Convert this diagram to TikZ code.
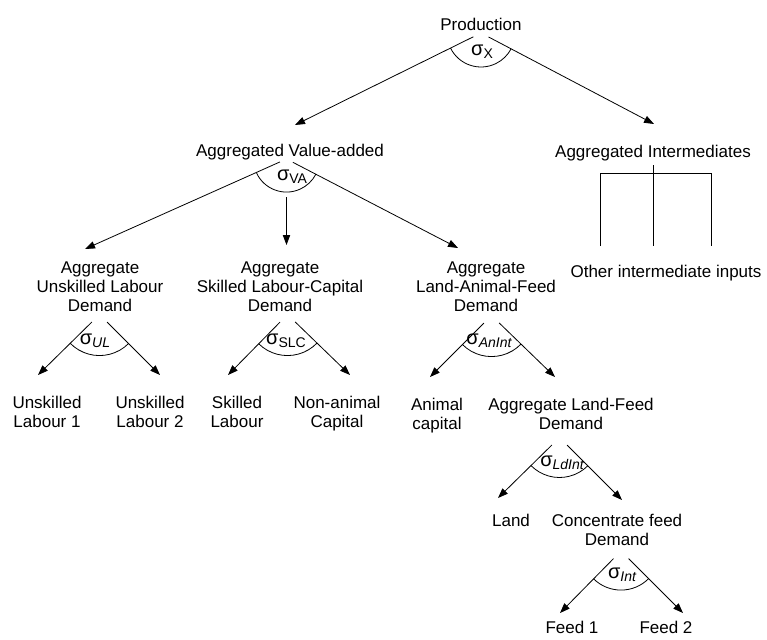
\documentclass[tikz,border=0pt]{standalone}
\usepackage{fontspec}
\setmainfont{Liberation Sans}
\usetikzlibrary{arrows.meta,angles}

% elasticity label: large sigma with lowered subscript
\newcommand\elas[1]{{\fontsize{15}{15}\selectfont σ}%
  \raisebox{-2.6pt}{\fontsize{10.5}{10.5}\selectfont #1}}

\begin{document}
\begin{tikzpicture}[
  x=0.75pt, y=-0.75pt,
  font=\fontsize{12.75}{14.25}\selectfont,
  >={Triangle[length=7.5pt,width=5.5pt]},
  lbl/.style={align=center, inner sep=0pt},
  sig/.style={inner sep=0pt, anchor=base},
  line/.style={line width=0.6pt},
  arr/.style={->, line width=0.6pt},
  nest/.style={draw, line width=0.6pt, angle radius=#1}
]
  \useasboundingbox (0,0) rectangle (767,639);
  % top levels
  \node[lbl] (prod) at (481,24.8) {Production};
  \node[lbl] (va) at (290,152.6) {Aggregated Value-added};
  \node[lbl] (ai) at (653,153.6) {Aggregated Intermediates};
  \node[lbl] (oi) at (666,273.6) {Other intermediate inputs};
  % value-added components
  \node[lbl] (ul) at (100,287) {Aggregate\\Unskilled Labour\\Demand};
  \node[lbl] (slc) at (280,287) {Aggregate\\Skilled Labour-Capital\\Demand};
  \node[lbl] (laf) at (486,287) {Aggregate\\Land-Animal-Feed\\Demand};
  % primary factors
  \node[lbl] (ul1) at (47,412.3) {Unskilled\\Labour 1};
  \node[lbl] (ul2) at (150,412.3) {Unskilled\\Labour 2};
  \node[lbl] (sl) at (237,412.3) {Skilled\\Labour};
  \node[lbl] (nac) at (337,414) {Non-animal\\Capital};
  \node[lbl] (ac) at (437,416) {Animal\\capital};
  \node[lbl] (alf) at (571,414.3) {Aggregate Land-Feed\\Demand};
  \node[lbl] (land) at (511,520.8) {Land};
  \node[lbl] (cf) at (617,530.3) {Concentrate feed\\Demand};
  \node[lbl] (f1) at (572,627.8) {Feed 1};
  \node[lbl] (f2) at (666,627.8) {Feed 2};

  % nest vertices and arrow tips
  \coordinate (prodv) at (481,33);   \coordinate (proda) at (295,125);
  \coordinate (prodb) at (654,124);
  \coordinate (vav) at (286.5,159);  \coordinate (vaa) at (85,249);
  \coordinate (vam) at (286.5,245);  \coordinate (vab) at (458,248);
  \coordinate (ulv) at (99.5,314.5); \coordinate (ula) at (38,375);
  \coordinate (ulb) at (160,375);
  \coordinate (slcv) at (287.5,314.5); \coordinate (slca) at (228,375);
  \coordinate (slcb) at (350,375);
  \coordinate (lafv) at (491.5,315.5); \coordinate (lafa) at (430,377);
  \coordinate (lafb) at (555,377);
  \coordinate (alfv) at (559.5,437.5); \coordinate (alfa) at (498,498);
  \coordinate (alfb) at (622,500);
  \coordinate (cfv) at (621,551);    \coordinate (cfa) at (560,613);
  \coordinate (cfb) at (683,613);

  % production
  \draw[arr, shorten <=6.4pt] (prodv) -- (proda);
  \draw[arr, shorten <=6.4pt] (prodv) -- (prodb);
  \pic[nest=25.5pt] {angle=proda--prodv--prodb};
  \node[sig] (sx) at (482,55) {\elas{X}};
  % value-added
  \draw[arr, shorten <=5.4pt] (vav) -- (vaa);
  \draw[arr, shorten <=5.4pt] (vav) -- (vab);
  \draw[arr, shorten <=28.5pt] (vav) -- (vam);
  \pic[nest=24.8pt] {angle=vaa--vav--vab};
  \node[sig] (sva) at (292,180) {\elas{VA}};
  % intermediates (Leontief)
  \coordinate (brl) at (600,246);
  \coordinate (brr) at (711,246);
  \draw[line] ([yshift=-2.5pt]ai.south) -- (ai.south |- brl);
  \draw[line] (brl) -- ++(0,-73) -| (brr);
  % unskilled labour
  \draw[arr, shorten <=8pt] (ulv) -- (ula);
  \draw[arr, shorten <=8pt] (ulv) -- (ulb);
  \pic[nest=30.8pt] {angle=ula--ulv--ulb};
  \node[sig] (sul) at (95,344) {\elas{\itshape UL}};
  % skilled labour-capital
  \draw[arr, shorten <=8pt] (slcv) -- (slca);
  \draw[arr, shorten <=8pt] (slcv) -- (slcb);
  \pic[nest=30.8pt] {angle=slca--slcv--slcb};
  \node[sig] (sslc) at (286,344) {\elas{SLC}};
  % land-animal-feed
  \draw[arr, shorten <=8pt] (lafv) -- (lafa);
  \draw[arr, shorten <=8pt] (lafv) -- (lafb);
  \pic[nest=30.8pt] {angle=lafa--lafv--lafb};
  \node[sig] (sanint) at (489,344) {\elas{\itshape AnInt}};
  % land-feed
  \draw[arr, shorten <=8pt] (alfv) -- (alfa);
  \draw[arr, shorten <=8pt] (alfv) -- (alfb);
  \pic[nest=30pt] {angle=alfa--alfv--alfb};
  \node[sig] (sldint) at (562,466) {\elas{\itshape LdInt}};
  % feed
  \draw[arr, shorten <=8pt] (cfv) -- (cfa);
  \draw[arr, shorten <=8pt] (cfv) -- (cfb);
  \pic[nest=29.3pt] {angle=cfa--cfv--cfb};
  \node[sig] (sint) at (622,578) {\elas{\itshape Int}};
\end{tikzpicture}
\end{document}
